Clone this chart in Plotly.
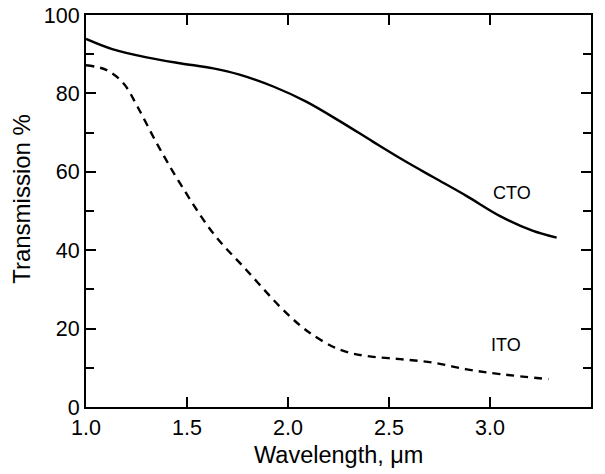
import plotly.graph_objects as go

# CTO (solid)
cto_x = [1.00, 1.13, 1.30, 1.465, 1.63, 1.76, 1.93, 2.09, 2.26, 2.42, 2.57, 2.72, 2.885, 3.05, 3.21, 3.33]
cto_y = [93.9, 91.3, 89.2, 87.7, 86.4, 84.8, 81.7, 77.9, 72.8, 67.7, 63.0, 58.6, 53.8, 48.7, 45.0, 43.2]

# ITO (dashed)
ito_x = [1.00, 1.10, 1.185, 1.255, 1.35, 1.465, 1.63, 1.795, 1.96, 2.06, 2.125, 2.225, 2.30, 2.39, 2.555, 2.72, 2.885, 3.05, 3.29]
ito_y = [87.2, 86.0, 82.6, 76.6, 67.3, 57.1, 44.3, 34.9, 25.6, 20.8, 18.3, 15.3, 13.9, 13.0, 12.2, 11.3, 9.6, 8.4, 7.1]

labels = ["CTO", "ITO"]
label_x = [3.11, 3.077]
label_y = [54.6, 15.8]

x_ticks = [1.0, 1.5, 2.0, 2.5, 3.0, 3.5]
x_ticktext = ["1.0", "1.5", "2.0", "2.5", "3.0", "3.5"]
y_ticks = [0, 20, 40, 60, 80, 100]

FONT = "Liberation Sans, Arial, Helvetica, sans-serif"

fig = go.Figure()
fig.add_trace(go.Scatter(x=cto_x, y=cto_y, mode="lines",
                         line=dict(color="black", width=2.4, shape="spline", smoothing=1.0),
                         showlegend=False, hoverinfo="skip"))
fig.add_trace(go.Scatter(x=ito_x, y=ito_y, mode="lines",
                         line=dict(color="black", width=2.4, dash="8px,6px", shape="spline", smoothing=1.0),
                         showlegend=False, hoverinfo="skip"))

for t, lx, ly in zip(labels, label_x, label_y):
    fig.add_annotation(x=lx, y=ly, text=t, showarrow=False,
                       font=dict(family=FONT, size=18, color="black"))

fig.add_annotation(xref="paper", yref="paper", x=0.5, y=-0.1224, text="Wavelength, \u03bcm",
                   showarrow=False, font=dict(family=FONT, size=23.5, color="black"),
                   xanchor="center", yanchor="middle")
fig.add_annotation(xref="paper", yref="paper", x=-0.1267, y=0.531, text="Transmission %",
                   showarrow=False, textangle=-90, font=dict(family=FONT, size=24, color="black"),
                   xanchor="center", yanchor="middle")

fig.update_layout(
    width=605, height=474,
    margin=dict(l=86, r=14, t=15, b=67, autoexpand=False),
    paper_bgcolor="white", plot_bgcolor="white",
    font=dict(family=FONT, size=21.5, color="black"),
)
fig.update_xaxes(range=[1.0, 3.5], tickvals=x_ticks, ticktext=x_ticktext,
                 ticks="inside", ticklen=10, tickwidth=2, tickcolor="black",
                 showline=True, linecolor="black", linewidth=2, mirror="allticks",
                 showgrid=False, zeroline=False, automargin=False,
                 ticklabelstandoff=0,
                 tickfont=dict(family=FONT, size=21.5, color="black"))
fig.update_yaxes(range=[0, 100], tickvals=y_ticks,
                 ticks="inside", ticklen=10, tickwidth=2, tickcolor="black",
                 minor=dict(dtick=10, tick0=0, ticks="inside", ticklen=8, tickwidth=1.5, tickcolor="black", showgrid=False),
                 showline=True, linecolor="black", linewidth=2, mirror="allticks",
                 showgrid=False, zeroline=False, automargin=False,
                 tickfont=dict(family=FONT, size=21.5, color="black"))

fig.write_html("out.html", config={"displayModeBar": False},
               post_script="document.body.style.margin='0';")
